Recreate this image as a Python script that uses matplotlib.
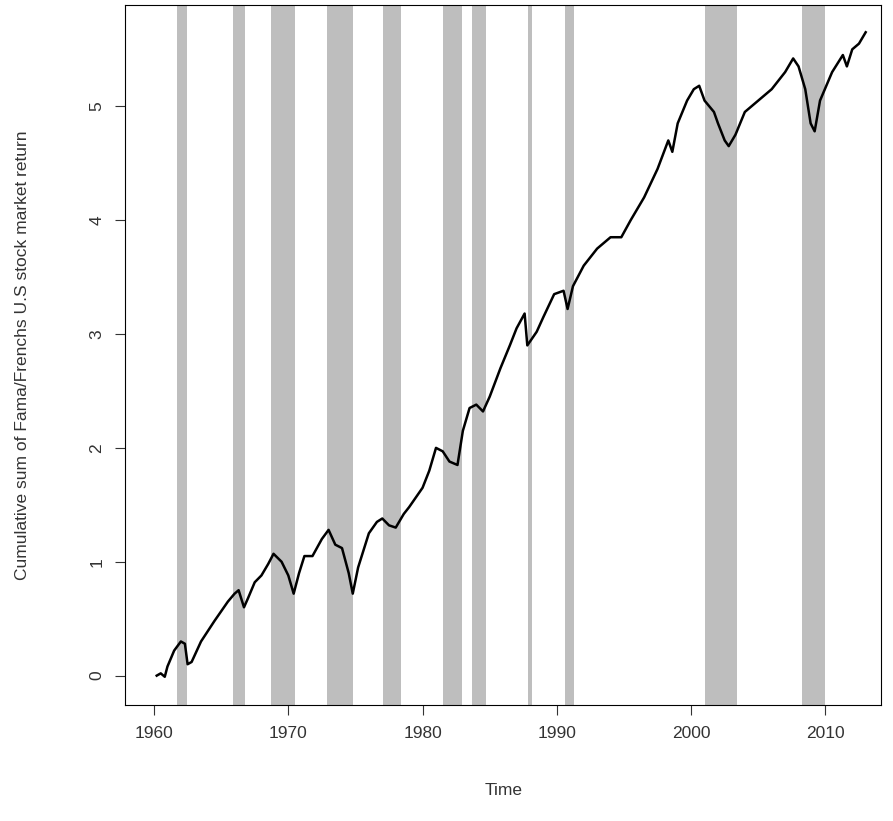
import matplotlib
matplotlib.use("Agg")
import matplotlib.pyplot as plt

# recession periods (start, end) in years
rec_start = [1961.71, 1965.88, 1968.71, 1972.87, 1977.04, 1981.50, 1983.66, 1987.83, 1990.58, 2001.07, 2008.29]
rec_end = [1962.46, 1966.77, 1970.49, 1974.81, 1978.38, 1982.92, 1984.70, 1988.13, 1991.25, 2003.45, 2010.00]

# cumulative return
years = [1960.2, 1960.5, 1960.8, 1961.0, 1961.5, 1962.0, 1962.3, 1962.5, 1962.8, 1963.5, 1964.5,
         1965.5, 1966.0, 1966.3, 1966.7, 1967.0, 1967.5, 1968.0, 1968.5, 1968.9, 1969.5, 1970.0,
         1970.4, 1970.8, 1971.2, 1971.8, 1972.5, 1973.0, 1973.5, 1974.0, 1974.5, 1974.8, 1975.2,
         1975.6, 1976.0, 1976.6, 1977.0, 1977.5, 1978.0, 1978.6, 1979.0, 1980.0, 1980.5, 1981.0,
         1981.5, 1982.0, 1982.6, 1983.0, 1983.5, 1984.0, 1984.5, 1985.0, 1985.8, 1986.5, 1987.0,
         1987.6, 1987.8, 1988.5, 1989.0, 1989.8, 1990.5, 1990.8, 1991.2, 1992.0, 1993.0, 1994.0,
         1994.8, 1995.5, 1996.5, 1997.5, 1998.3, 1998.6, 1999.0, 1999.7, 2000.2, 2000.6, 2001.0,
         2001.7, 2002.0, 2002.5, 2002.8, 2003.3, 2004.0, 2005.0, 2006.0, 2007.0, 2007.6, 2008.0,
         2008.5, 2008.9, 2009.2, 2009.6, 2010.5, 2011.3, 2011.6, 2012.0, 2012.5, 2013.0]
values = [0.0, 0.02, -0.01, 0.08, 0.22, 0.30, 0.28, 0.10, 0.12, 0.30, 0.48,
          0.65, 0.72, 0.75, 0.60, 0.68, 0.82, 0.88, 0.98, 1.07, 1.00, 0.88,
          0.72, 0.90, 1.05, 1.05, 1.20, 1.28, 1.15, 1.12, 0.90, 0.72, 0.95,
          1.10, 1.25, 1.35, 1.38, 1.32, 1.30, 1.42, 1.48, 1.65, 1.80, 2.00,
          1.97, 1.88, 1.85, 2.15, 2.35, 2.38, 2.32, 2.45, 2.70, 2.90, 3.05,
          3.18, 2.90, 3.02, 3.15, 3.35, 3.38, 3.22, 3.42, 3.60, 3.75, 3.85,
          3.85, 4.00, 4.20, 4.45, 4.70, 4.60, 4.85, 5.05, 5.15, 5.18, 5.05,
          4.95, 4.85, 4.70, 4.65, 4.75, 4.95, 5.05, 5.15, 5.30, 5.42, 5.35,
          5.15, 4.85, 4.78, 5.05, 5.30, 5.45, 5.35, 5.50, 5.55, 5.65]

plt.rcParams['font.family'] = ['Liberation Sans', 'DejaVu Sans']
fig = plt.figure(figsize=(8.93, 8.21), dpi=100)
ax = fig.add_axes([0.14, 0.141, 0.847, 0.853])

for s, e in zip(rec_start, rec_end):
    ax.axvspan(s, e, color='#bebebe', lw=0)
ax.plot(years, values, color='black', lw=1.8)

ax.set_xlim(1957.84, 2014.17)
ax.set_ylim(-0.26, 5.89)
ax.set_xticks([1960, 1970, 1980, 1990, 2000, 2010])
ax.set_yticks([0, 1, 2, 3, 4, 5])
ax.set_yticklabels(['0', '1', '2', '3', '4', '5'], rotation=90, va='center')
ax.tick_params(labelsize=12.5, length=7, colors='#333333', pad=8)
ax.set_xlabel('Time', fontsize=12.5, color='#333333')
ax.set_ylabel('Cumulative sum of Fama/Frenchs U.S stock market return', fontsize=12.5, color='#333333')
ax.yaxis.set_label_coords(-0.126, 0.5)
ax.xaxis.set_label_coords(0.5, -0.111)

fig.savefig('out.png', dpi=100)
